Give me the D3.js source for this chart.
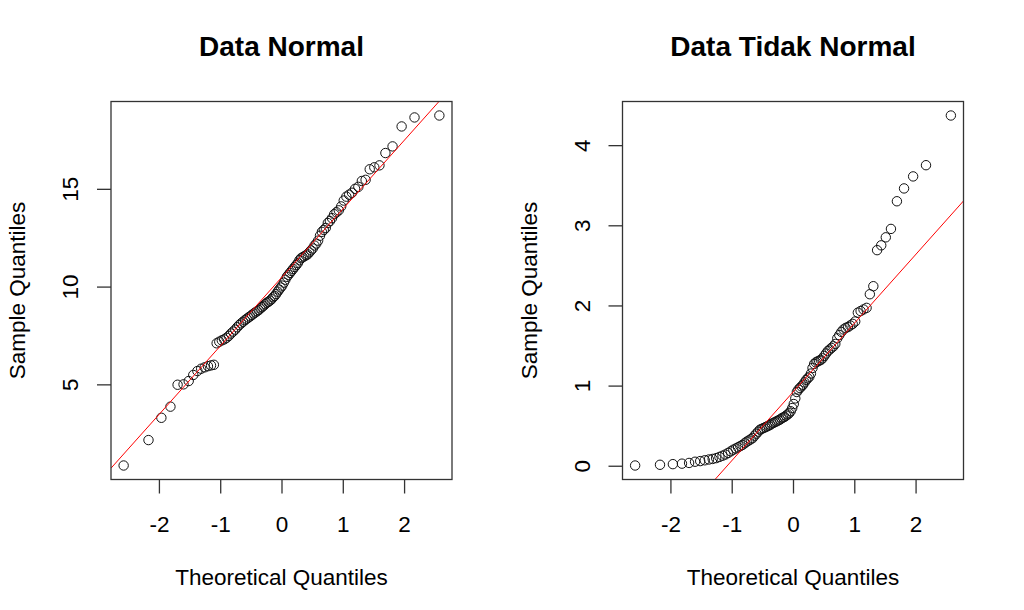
<!DOCTYPE html>
<html>
<head>
<meta charset="utf-8">
<script src="https://cdn.jsdelivr.net/npm/d3@7"></script>
<style>
  html, body { margin: 0; padding: 0; background: #fff; }
  svg { display: block; }
  text { font-family: "Liberation Sans", Arial, sans-serif; fill: #000; }
</style>
</head>
<body>
<svg id="chart" width="1024" height="610"></svg>
<script>
// Theoretical normal quantiles for n = 100 (qnorm(ppoints(100)))
const theoretical = [-2.5758,-2.1701,-1.9600,-1.8119,-1.6954,-1.5982,-1.5141,-1.4395,-1.3722,-1.3106,
  -1.2536,-1.2004,-1.1503,-1.1031,-1.0581,-1.0152,-0.9741,-0.9346,-0.8965,-0.8596,
  -0.8239,-0.7892,-0.7554,-0.7225,-0.6903,-0.6588,-0.6280,-0.5978,-0.5681,-0.5388,
  -0.5101,-0.4817,-0.4538,-0.4261,-0.3989,-0.3719,-0.3451,-0.3186,-0.2924,-0.2663,
  -0.2404,-0.2147,-0.1891,-0.1637,-0.1383,-0.1130,-0.0878,-0.0627,-0.0376,-0.0125,
  0.0125,0.0376,0.0627,0.0878,0.1130,0.1383,0.1637,0.1891,0.2147,0.2404,
  0.2663,0.2924,0.3186,0.3451,0.3719,0.3989,0.4261,0.4538,0.4817,0.5101,
  0.5388,0.5681,0.5978,0.6280,0.6588,0.6903,0.7225,0.7554,0.7892,0.8239,
  0.8596,0.8965,0.9346,0.9741,1.0152,1.0581,1.1031,1.1503,1.2004,1.2536,
  1.3106,1.3722,1.4395,1.5141,1.5982,1.6954,1.8119,1.9600,2.1701,2.5758];

// Sorted sample values
const normalSample = [0.85,2.15,3.29,3.86,4.98,5.00,5.17,5.48,5.68,5.80,
  5.87,5.93,5.97,6.00,7.10,7.18,7.25,7.30,7.38,7.48,
  7.60,7.70,7.80,7.92,8.03,8.12,8.20,8.28,8.35,8.42,
  8.48,8.55,8.62,8.68,8.74,8.80,8.88,8.95,9.02,9.10,
  9.17,9.22,9.28,9.35,9.45,9.52,9.62,9.74,9.85,9.95,
  10.05,10.20,10.35,10.50,10.60,10.70,10.80,10.90,11.00,11.10,
  11.20,11.35,11.45,11.50,11.55,11.60,11.65,11.75,11.85,11.95,
  12.10,12.20,12.35,12.60,12.80,12.90,13.00,13.25,13.35,13.50,
  13.70,13.80,13.90,14.10,14.40,14.60,14.70,14.80,15.00,15.10,
  15.40,15.46,16.00,16.10,16.20,16.83,17.17,18.19,18.65,18.75];

const skewedSample = [0.003,0.012,0.020,0.026,0.035,0.050,0.058,0.068,0.078,0.085,
  0.095,0.110,0.125,0.140,0.160,0.180,0.200,0.215,0.230,0.245,
  0.260,0.280,0.300,0.315,0.330,0.345,0.375,0.400,0.425,0.450,
  0.460,0.470,0.480,0.490,0.500,0.510,0.525,0.535,0.545,0.555,
  0.565,0.575,0.590,0.600,0.610,0.625,0.640,0.655,0.680,0.720,
  0.770,0.840,0.920,0.950,0.970,0.990,1.010,1.040,1.070,1.090,
  1.110,1.150,1.220,1.270,1.290,1.300,1.310,1.320,1.340,1.370,
  1.400,1.430,1.450,1.470,1.490,1.520,1.590,1.630,1.670,1.700,
  1.720,1.730,1.750,1.770,1.800,1.910,1.930,1.950,1.970,2.140,
  2.240,2.690,2.750,2.850,2.955,3.300,3.460,3.610,3.750,4.370];

const titles = ["Data Normal", "Data Tidak Normal"];
const xLabel = "Theoretical Quantiles";
const yLabel = "Sample Quantiles";
const xTicks = [-2, -1, 0, 1, 2];
const yTicksNormal = [5, 10, 15];
const yTicksSkewed = [0, 1, 2, 3, 4];

const svg = d3.select("#chart");
svg.append("rect").attr("width", 1024).attr("height", 610).attr("fill", "#fff");

// R-style range expansion (4% each side)
function rRange(arr) {
  const [lo, hi] = d3.extent(arr);
  const pad = (hi - lo) * 0.04;
  return [lo - pad, hi + pad];
}
// R type-7 quantile
function q7(sorted, p) {
  const h = (sorted.length - 1) * p;
  const lo = Math.floor(h);
  return sorted[lo] + (h - lo) * (sorted[lo + 1] - sorted[lo]);
}
const plainFmt = d => String(d);   // ASCII hyphen-minus like R

const panels = [
  { left: 111, sample: normalSample, ticks: yTicksNormal, title: titles[0] },
  { left: 622.5, sample: skewedSample, ticks: yTicksSkewed, title: titles[1] }
];
const plotW = 341, plotTop = 101.5, plotBottom = 479.5;
const fontLab = 22.5, fontTitle = 28;

panels.forEach((p, idx) => {
  const x = d3.scaleLinear().domain(rRange(theoretical)).range([p.left, p.left + plotW]);
  const y = d3.scaleLinear().domain(rRange(p.sample)).range([plotBottom, plotTop]);
  const g = svg.append("g");
  const clipId = "clip" + idx;
  svg.append("clipPath").attr("id", clipId).append("rect")
    .attr("x", p.left).attr("y", plotTop).attr("width", plotW).attr("height", plotBottom - plotTop);

  // points
  g.selectAll("circle").data(p.sample).join("circle")
    .attr("cx", (d, i) => x(theoretical[i]))
    .attr("cy", d => y(d))
    .attr("r", 4.7)
    .attr("fill", "none")
    .attr("stroke", "#111")
    .attr("stroke-width", 1);

  // qqline through quartiles
  const q1 = q7(p.sample, 0.25), q3 = q7(p.sample, 0.75);
  const z1 = -0.6744898, z3 = 0.6744898;
  const slope = (q3 - q1) / (z3 - z1);
  const intercept = q1 - slope * z1;
  const [xa, xb] = x.domain();
  svg.append("line")
    .attr("clip-path", `url(#${clipId})`)
    .attr("x1", x(xa)).attr("y1", y(intercept + slope * xa))
    .attr("x2", x(xb)).attr("y2", y(intercept + slope * xb))
    .attr("stroke", "#ff0000").attr("stroke-width", 1);

  // box
  svg.append("rect")
    .attr("x", p.left).attr("y", plotTop).attr("width", plotW).attr("height", plotBottom - plotTop)
    .attr("fill", "none").attr("stroke", "#333").attr("stroke-width", 1.3);

  // x axis
  const xAxis = d3.axisBottom(x).tickValues(xTicks).tickSize(14).tickPadding(0).tickFormat(plainFmt);
  const gx = svg.append("g").attr("transform", `translate(0,${plotBottom})`).call(xAxis);
  gx.select(".domain").remove();
  gx.selectAll(".tick line").attr("stroke", "#333").attr("stroke-width", 1.3);
  gx.selectAll(".tick text")
    .attr("y", 52).attr("dy", 0)
    .style("font-size", fontLab + "px")
    .style("font-family", '"Liberation Sans", Arial, sans-serif')
    .attr("fill", "#000");

  // y axis
  const yAxis = d3.axisLeft(y).tickValues(p.ticks).tickSize(14).tickPadding(0).tickFormat(plainFmt);
  const gy = svg.append("g").attr("transform", `translate(${p.left},0)`).call(yAxis);
  gy.select(".domain").remove();
  gy.selectAll(".tick line").attr("stroke", "#333").attr("stroke-width", 1.3);
  gy.selectAll(".tick text")
    .attr("x", 0).attr("dy", 0)
    .attr("text-anchor", "middle")
    .attr("transform", "translate(-33,0) rotate(-90)")
    .style("font-size", fontLab + "px")
    .style("font-family", '"Liberation Sans", Arial, sans-serif')
    .attr("fill", "#000");

  const cx = p.left + plotW / 2;
  // title
  svg.append("text")
    .attr("x", cx).attr("y", 56)
    .attr("text-anchor", "middle")
    .style("font-size", fontTitle + "px")
    .style("font-weight", "bold")
    .text(p.title);
  // x label
  svg.append("text")
    .attr("x", cx).attr("y", 585)
    .attr("text-anchor", "middle")
    .style("font-size", fontLab + "px")
    .text(xLabel);
  // y label
  const cy = (plotTop + plotBottom) / 2;
  svg.append("text")
    .attr("transform", `translate(${p.left - 86},${cy}) rotate(-90)`)
    .attr("text-anchor", "middle")
    .style("font-size", fontLab + "px")
    .text(yLabel);
});
</script>
</body>
</html>
